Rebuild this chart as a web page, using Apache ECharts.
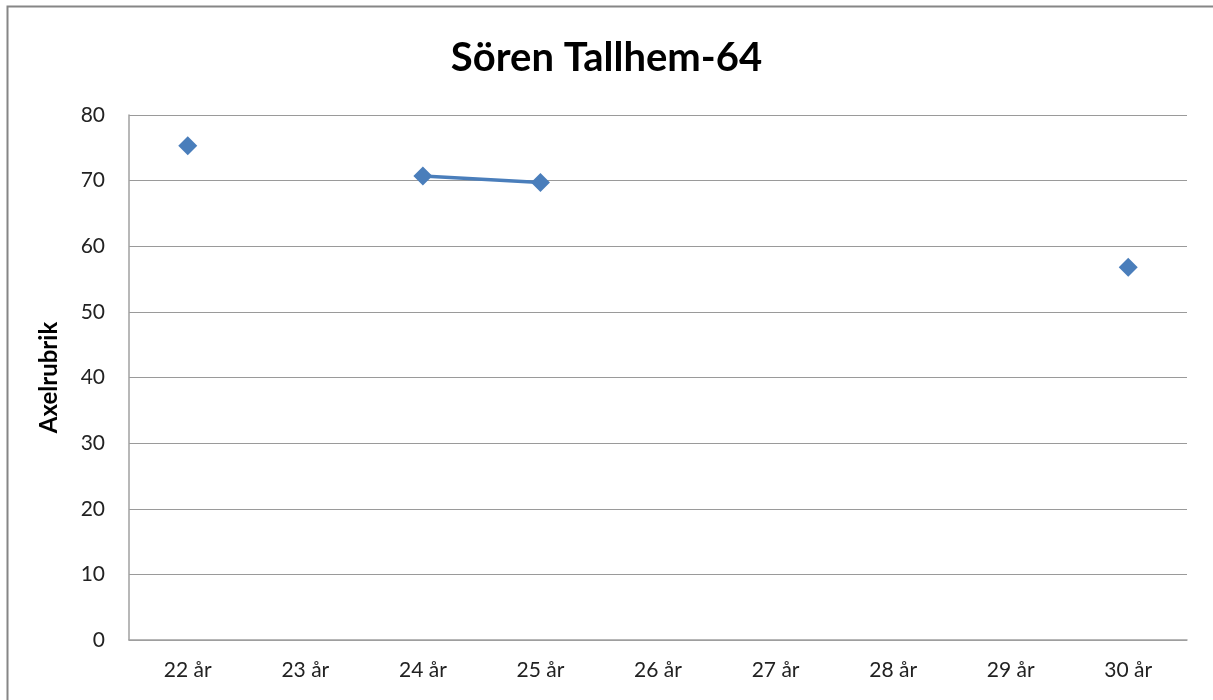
<!DOCTYPE html>
<html lang="sv">
<head>
  <meta charset="UTF-8">
  <title>Sören Tallhem-64</title>
  <script src="https://cdn.jsdelivr.net/npm/echarts@6/dist/echarts.min.js"></script>
  <style>
    html, body { margin: 0; padding: 0; background: #fff; }
    #chart { width: 1213px; height: 700px; }
  </style>
</head>
<body>
  <div id="chart"></div>
  <script>
    // data
    var categories = ['22 år', '23 år', '24 år', '25 år', '26 år', '27 år', '28 år', '29 år', '30 år'];
    var values = [75.3, null, 70.7, 69.7, null, null, null, null, 56.8];
    var yTicks = [0, 10, 20, 30, 40, 50, 60, 70, 80];

    var font = 'Lato, "Open Sans", sans-serif';
    var myChart = echarts.init(document.getElementById('chart'), null, {renderer: 'canvas'});

    var opt = {
      animation: false,
      backgroundColor: '#fff',
      title: {
        text: 'Sören Tallhem-64',
        left: 'center',
        top: 33,
        textStyle: { fontFamily: font, fontSize: 40, fontWeight: 'bold', color: '#000' }
      },
      graphic: [{
        type: 'rect',
        shape: { x: 7.5, y: 6.5, width: 1240, height: 740 },
        style: { fill: 'none', stroke: '#868686', lineWidth: 2 },
        silent: true
      }],
      grid: { left: 129, right: 26, top: 115, bottom: 60 },
      xAxis: {
        type: 'category',
        data: categories,
        boundaryGap: true,
        axisLine: { show: true, lineStyle: { color: '#a0a0a0', width: 1.5 } },
        axisTick: { show: false },
        axisLabel: { fontFamily: font, fontSize: 21, color: '#222', margin: 20 }
      },
      yAxis: {
        type: 'value',
        min: yTicks[0],
        max: yTicks[yTicks.length - 1],
        interval: 10,
        name: 'Axelrubrik',
        nameLocation: 'middle',
        nameGap: 68,
        nameTextStyle: { fontFamily: font, fontSize: 24, fontWeight: 'bold', color: '#000' },
        axisLine: { show: true, lineStyle: { color: '#a0a0a0', width: 1.5 } },
        axisTick: { show: false },
        axisLabel: { fontFamily: font, fontSize: 21, color: '#222', margin: 24 },
        splitLine: { lineStyle: { color: '#9a9a9a', width: 1.2 } }
      },
      series: [{
        type: 'line',
        data: values,
        connectNulls: false,
        symbol: 'diamond',
        symbolSize: 19,
        lineStyle: { color: '#4a7ebb', width: 3.5 },
        itemStyle: { color: '#4a7ebb' }
      }]
    };

    myChart.setOption(opt);
  </script>
</body>
</html>
